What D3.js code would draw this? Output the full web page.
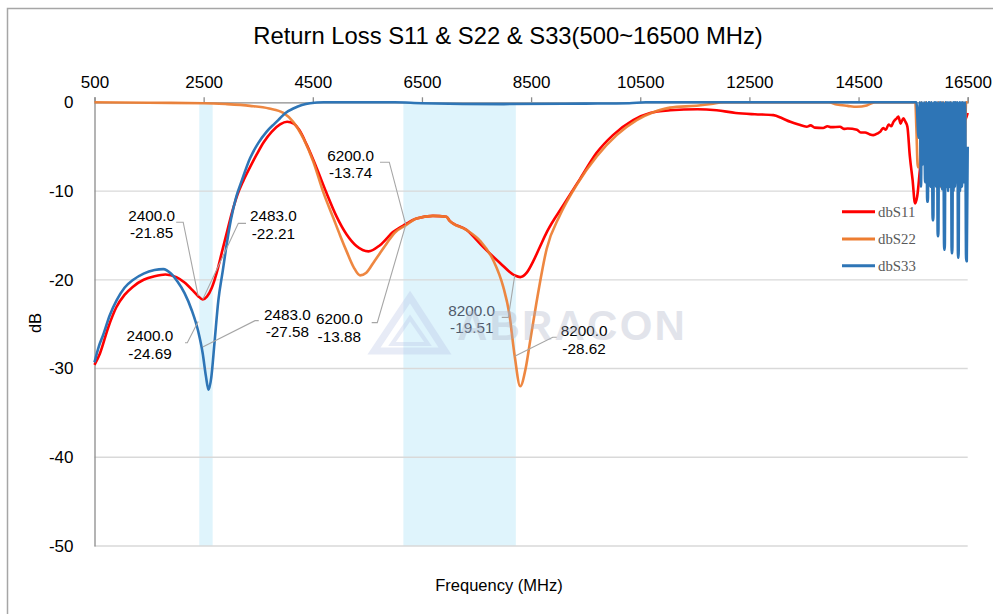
<!DOCTYPE html>
<html><head><meta charset="utf-8">
<script src="https://cdn.jsdelivr.net/npm/d3@7"></script>
<style>body{margin:0;background:#fff}svg{display:block}</style>
</head><body>
<svg id="c" width="993" height="614"></svg>
<script>
const xTicks = [500,2500,4500,6500,8500,10500,12500,14500,16500];
const yTicks = [0,-10,-20,-30,-40,-50];
const bands = [[2420,2665],[6160,8220]];
const seriesNames = ["dbS11","dbS22","dbS33"];
const seriesColors = ["#ff0000","#ed7d31","#2e75b6"];

const s11 = [[500,-29.6],[600,-28.3],[750,-25.4],[900,-23.1],[1050,-21.7],[1200,-20.8],[1400,-20.0],[1600,-19.6],[1800,-19.4],[2000,-19.7],[2150,-20.3],[2300,-21.2],[2400,-21.85],[2483,-22.21],[2560,-21.9],[2650,-20.9],[2740,-19.2],[2830,-17.0],[2920,-14.8],[3020,-12.4],[3120,-10.4],[3230,-8.8],[3350,-7.3],[3470,-5.9],[3600,-4.5],[3750,-3.3],[3900,-2.5],[4030,-2.2],[4150,-2.4],[4250,-3.1],[4390,-4.8],[4570,-7.4],[4750,-10.2],[4930,-12.8],[5120,-14.9],[5300,-16.2],[5520,-16.8],[5730,-16.1],[5975,-14.6],[6200,-13.74],[6400,-13.1],[6700,-12.8],[6950,-12.9],[7000,-13.3],[7320,-14.4],[7620,-16.3],[7930,-18.1],[8200,-19.51],[8300,-19.7],[8420,-19.2],[8540,-17.9],[8660,-16.3],[8790,-14.6],[9090,-11.6],[9400,-8.6],[9700,-5.7],[10000,-3.7],[10370,-2.0],[10680,-1.2],[11050,-0.9],[11550,-0.78],[11900,-0.9],[12250,-1.2],[12600,-1.35],[12940,-1.45],[13100,-1.8],[13250,-2.2],[13400,-2.5],[13550,-2.75],[13620,-2.6],[13700,-2.85],[13850,-2.9],[13930,-2.7],[14000,-2.8],[14160,-2.75],[14230,-3.0],[14300,-2.95],[14470,-3.1],[14540,-3.4],[14620,-3.4],[14700,-3.6],[14770,-3.7],[14850,-3.5],[14900,-3.3],[14950,-2.9],[15000,-3.1],[15050,-2.5],[15100,-2.7],[15140,-2.2],[15200,-1.8],[15230,-1.6],[15270,-2.4],[15320,-1.8],[15360,-2.2],[15395,-2.75],[15440,-6.1],[15490,-8.75],[15535,-11.4],[15575,-10.6],[15625,-7.6],[15680,-4.5],[15750,-2.0],[15850,-3.2],[15950,-1.2],[16050,-2.6],[16150,-0.8],[16250,-2.2],[16350,-0.6],[16450,-2.0],[16500,-1.2]];

const s22 = [[500,0],[1500,-0.05],[2500,-0.1],[2900,-0.2],[3350,-0.4],[3700,-0.7],[3960,-1.2],[4140,-2.2],[4330,-4.1],[4510,-6.7],[4690,-10.1],[4880,-13.1],[5000,-15.0],[5120,-16.8],[5250,-18.6],[5365,-19.5],[5480,-19.2],[5608,-18.1],[5730,-17.0],[5854,-15.9],[6000,-14.7],[6200,-13.88],[6400,-13.1],[6700,-12.8],[6950,-12.9],[7000,-13.3],[7320,-14.4],[7564,-15.6],[7807,-17.8],[7990,-20.8],[8100,-23.8],[8200,-28.62],[8300,-32.0],[8400,-30.0],[8480,-27.0],[8600,-22.5],[8786,-16.5],[9030,-12.7],[9335,-9.3],[9702,-6.1],[10068,-3.7],[10435,-2.0],[10739,-1.13],[11045,-0.6],[11534,-0.38],[11800,-0.2],[12021,0],[13950,0],[14100,-0.25],[14300,-0.4],[14466,-0.5],[14650,-0.35],[14800,0],[15540,0],[15560,-3],[15585,-7.3],[15625,-7.3],[15648,0],[15700,-6],[15730,0],[15800,-8],[15830,0],[15930,-9.5],[15960,0],[16000,-9.5],[16030,0],[16060,-9.5],[16090,0],[16160,-9.5],[16190,0],[16250,-9.5],[16280,0],[16380,-9.5],[16410,0],[16440,-7.8],[16470,0],[16500,0]];

const s33 = [[500,-29.3],[580,-27.5],[660,-26.2],[780,-24.0],[907,-22.3],[1050,-20.9],[1211,-20.0],[1400,-19.3],[1600,-18.9],[1761,-18.8],[1900,-19.3],[2020,-20.2],[2150,-21.5],[2280,-23.4],[2400,-25.8],[2483,-28.3],[2540,-30.8],[2590,-32.4],[2640,-31.0],[2700,-27.0],[2770,-22.3],[2850,-19.0],[2922,-16.0],[3000,-13.2],[3100,-10.6],[3200,-8.8],[3350,-6.3],[3500,-4.6],[3655,-3.3],[3800,-2.4],[3900,-1.8],[4000,-1.2],[4143,-0.7],[4300,-0.3],[4450,-0.1],[4700,0],[6000,0],[6500,-0.1],[8000,-0.2],[9500,-0.15],[10300,-0.1],[10600,0],[15560,0],[15600,-4],[15622,0],[15644,-9.5],[15662,0],[15680,-7],[15700,0],[15720,-9],[15742,0],[15758,-11.2],[15770,-11.2],[15784,0],[15790,-8.5],[15804,0],[15818,-9.5],[15840,0],[15858,-13.3],[15870,-13.3],[15884,0],[15890,-9],[15905,0],[15920,-9.5],[15938,0],[15950,-15.1],[15962,-15.1],[15976,0],[15985,-9.5],[16007,0],[16030,-9.8],[16052,0],[16068,-16.6],[16080,-16.6],[16094,0],[16105,-9.5],[16122,0],[16140,-10],[16158,0],[16175,-9.5],[16194,0],[16206,-17.0],[16218,-17.0],[16232,0],[16240,-10],[16254,0],[16267,-9.5],[16284,0],[16300,-9],[16314,0],[16321,-17.5],[16333,-17.5],[16347,0],[16360,-10],[16378,0],[16395,-9.5],[16412,0],[16430,-9],[16453,0],[16471,-17.9],[16483,-17.9],[16500,-5]];

// annotations: series index, frequency, value
const annoSeries = [0,0,2,2,0,1,0,1];
const annoFreq = [2400,2483,2400,2483,6200,6200,8200,8200];
const annoVal = [-21.85,-22.21,-24.69,-27.58,-13.74,-13.88,-19.51,-28.62];
// layout offsets (label centre / leader elbow / leader start) relative to anchor
const annoLayout = [
  {lx:-46.5, ly:-75.5, ex:-15, ey:-74, sx:-22},
  {lx:70.6, ly:-78.5, ex:35.6, ey:-76, sx:43.3},
  {lx:-48.2, ly:19.8, ex:-10.9, ey:21.3, sx:-13.2},
  {lx:84.6, ly:-27.5, ex:52.3, ey:-26.4, sx:56},
  {lx:-54.9, ly:-63.5, ex:-16.3, ey:-62, sx:-25.6},
  {lx:-66.3, ly:98.5, ex:-28.3, ey:97.2, sx:-33.9},
  {lx:-43, ly:40.1, ex:-6.4, ey:41.9, sx:-13},
  {lx:69.3, ly:-20.1, ex:38, ey:-19, sx:42}
];

const svg = d3.select("#c");
const x = d3.scaleLinear().domain([500,16500]).range([94.5,967.7]);
const y = d3.scaleLinear().domain([-50,0]).range([546,102.3]);
const font = "'Liberation Sans', Arial, sans-serif";

svg.append("rect").attr("x",7.5).attr("y",8.5).attr("width",1100).attr("height",800)
  .attr("fill","#fff").attr("stroke","#a6a6a6").attr("stroke-width",1.5);

// title
svg.append("text").attr("x",508).attr("y",44).attr("text-anchor","middle")
  .attr("font-family",font).attr("font-size",23.8).attr("fill","#000")
  .text("Return Loss S11 & S22 & S33(500~16500 MHz)");

// bands
svg.append("g").selectAll("rect").data(bands).join("rect")
  .attr("x",d=>x(d[0])).attr("width",d=>x(d[1])-x(d[0]))
  .attr("y",y(0)).attr("height",y(-50)-y(0)).attr("fill","#dff4fc");

// gridlines
svg.append("g").selectAll("line").data(yTicks.filter(v=>v!==0)).join("line")
  .attr("x1",x(500)).attr("x2",x(16500)).attr("y1",d=>y(d)).attr("y2",d=>y(d))
  .attr("stroke","#d9d9d9").attr("stroke-width",1.3);

// axes
const xAxis = d3.axisTop(x).tickValues(xTicks).tickSize(5).tickFormat(d=>String(d));
const gx = svg.append("g").attr("transform",`translate(0,${y(0)})`).call(xAxis);
gx.select(".domain").attr("stroke","#8c8c8c").attr("stroke-width",1.3);
gx.selectAll(".tick line").attr("stroke","#8c8c8c").attr("stroke-width",1.3);
gx.selectAll(".tick text").attr("font-family",font).attr("font-size",17).attr("fill","#000").attr("dy","-0.35em");

const yAxis = d3.axisLeft(y).tickValues(yTicks).tickSize(0).tickPadding(21).tickFormat(d=>String(d));
const gy = svg.append("g").attr("transform",`translate(${x(500)},0)`).call(yAxis);
gy.select(".domain").attr("stroke","#8c8c8c").attr("stroke-width",1.3);
gy.selectAll(".tick text").attr("font-family",font).attr("font-size",17).attr("fill","#000");

// axis titles
svg.append("text").attr("transform","translate(41,323) rotate(-90)").attr("text-anchor","middle")
  .attr("font-family",font).attr("font-size",16.5).text("dB");
svg.append("text").attr("x",499).attr("y",591).attr("text-anchor","middle")
  .attr("font-family",font).attr("font-size",16.5).text("Frequency (MHz)");

// series lines
const line = d3.line().x(d=>x(d[0])).y(d=>y(d[1])).curve(d3.curveMonotoneX);
const allSeries = [s11,s22,s33];
svg.append("g").selectAll("path").data(allSeries).join("path")
  .attr("d",line).attr("fill","none")
  .attr("stroke",(d,i)=>seriesColors[i]).attr("stroke-width",2.6)
  .attr("stroke-linejoin","round").attr("opacity",(d,i)=>i===1?0.92:1);

// annotations
const ag = svg.append("g");
annoFreq.forEach((f,i)=>{
  const ax = x(f), ay = y(annoVal[i]), L = annoLayout[i];
  ag.append("polyline")
    .attr("points",`${ax+L.sx},${ay+L.ey} ${ax+L.ex},${ay+L.ey} ${ax},${ay}`)
    .attr("fill","none").attr("stroke","#a6a6a6").attr("stroke-width",1.1);
  const t = ag.append("text").attr("text-anchor","middle").attr("font-family",font)
    .attr("font-size",15.3).attr("fill", i===6 ? "#4f5a6b" : "#000");
  t.append("tspan").attr("x",ax+L.lx).attr("y",ay+L.ly).text(f.toFixed(1));
  t.append("tspan").attr("x",ax+L.lx).attr("y",ay+L.ly+17.7).text(annoVal[i].toFixed(2));
});

// watermark
const wm = svg.append("g").attr("opacity",0.33);
wm.append("path").attr("d","M410,297 L445,351 L374,351 Z").attr("fill","none")
  .attr("stroke","#b7c3e6").attr("stroke-width",7).attr("stroke-linejoin","miter");
wm.append("path").attr("d","M410,318 L428,344 L392,344 Z").attr("fill","none")
  .attr("stroke","#b7c3e6").attr("stroke-width",4);
wm.append("text").attr("x",457).attr("y",340).attr("font-family",font).attr("font-weight","bold")
  .attr("font-size",42).attr("letter-spacing",2.2).attr("fill","#a9afc4").text("ABRACON");

// legend
const lg = svg.append("g");
seriesNames.forEach((n,i)=>{
  const ly = [211.7,239,265.7][i];
  lg.append("line").attr("x1",842).attr("x2",875).attr("y1",ly).attr("y2",ly)
    .attr("stroke",seriesColors[i]).attr("stroke-width",3);
  lg.append("text").attr("x",878).attr("y",ly+5).attr("font-family","'Liberation Serif', 'Times New Roman', serif")
    .attr("font-size",14.8).attr("fill","#595959").text(n);
});
</script>
</body></html>
